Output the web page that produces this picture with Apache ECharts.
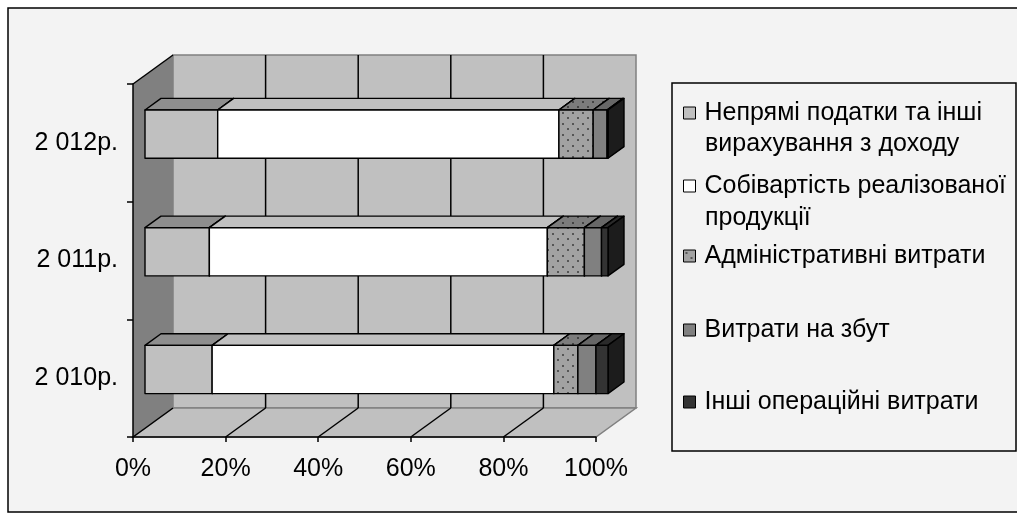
<!DOCTYPE html>
<html>
<head>
<meta charset="utf-8">
<script src="https://cdn.jsdelivr.net/npm/echarts@6/dist/echarts.min.js"></script>
<style>
  html, body { margin: 0; padding: 0; background: #ffffff; }
  #chart { width: 1017px; height: 521px; }
</style>
</head>
<body>
<div id="chart"></div>
<script>
// Categories (bottom to top on the axis)
const years = ['2 010р.', '2 011р.', '2 012р.'];

// Series names
const seriesNames = [
  'Непрямі податки та інші вирахування з доходу',
  'Собівартість реалізованої продукції',
  'Адміністративні витрати',
  'Витрати на збут',
  'Інші операційні витрати'
];

// Structure of revenue use, % (2010, 2011, 2012)
const indirectTaxes   = [14.5, 13.9, 15.7];
const costOfSales     = [73.8, 73.0, 73.7];
const adminExpenses   = [5.2, 8.0, 7.4];
const sellingExpenses = [3.9, 3.7, 3.0];
const otherExpenses   = [2.6, 1.4, 0.2];

// Value axis ticks
const xTicks = [0, 20, 40, 60, 80, 100];

const FONT = '"Liberation Sans", Arial, sans-serif';
const FONT_SIZE = 25;
const DEPTH_X = 40, DEPTH_Y = -29;        // 3D depth of the plot box
const BAR_NEAR = 0.3, BAR_FAR = 0.7;      // bar position inside the depth
const BAR_FRAC = 0.41;                    // bar thickness share of a category band

// Dotted fill used for the administrative expenses segment
function dotPattern(base, dot) {
  const c = document.createElement('canvas');
  c.width = 10; c.height = 11;
  const g = c.getContext('2d');
  g.fillStyle = base; g.fillRect(0, 0, 10, 11);
  g.fillStyle = dot;
  g.fillRect(2, 2, 2, 2);
  g.fillRect(7, 7, 2, 2);
  return c;
}

const faces = [
  { front: '#c0c0c0', top: '#8e8e8e', side: '#6a6a6a' },
  { front: '#ffffff', top: '#c0c0c0', side: '#a0a0a0' },
  { front: { image: dotPattern('#a2a2a2', '#555555'), repeat: 'repeat' },
    top:   { image: dotPattern('#7c7c7c', '#444444'), repeat: 'repeat' },
    side:  '#555555' },
  { front: '#808080', top: '#676767', side: '#4a4a4a' },
  { front: '#333333', top: '#2a2a2a', side: '#1c1c1c' }
];

const rawValues = [indirectTaxes, costOfSales, adminExpenses, sellingExpenses, otherExpenses];

// 100% stacking: [categoryIndex, start%, end%]
const stacked = rawValues.map(() => []);
years.forEach((_, ci) => {
  const total = rawValues.reduce((s, arr) => s + arr[ci], 0);
  let acc = 0;
  rawValues.forEach((arr, si) => {
    const start = acc / total * 100;
    acc += arr[ci];
    stacked[si].push([ci, start, acc / total * 100]);
  });
});

function boxRenderer(face) {
  return function (params, api) {
    const cat = api.value(0);
    const p0 = api.coord([api.value(1), cat]);
    const p1 = api.coord([api.value(2), cat]);
    const half = api.size([0, 1])[1] * BAR_FRAC / 2;
    const fx = DEPTH_X * BAR_NEAR, fy = DEPTH_Y * BAR_NEAR;
    const dx = DEPTH_X * (BAR_FAR - BAR_NEAR), dy = DEPTH_Y * (BAR_FAR - BAR_NEAR);
    const L = p0[0] + fx, R = p1[0] + fx, T = p0[1] + fy - half, B = p0[1] + fy + half;
    const stroke = { stroke: '#000', lineWidth: 1.4, lineJoin: 'round' };
    return {
      type: 'group',
      children: [
        { type: 'polygon', shape: { points: [[L, T], [R, T], [R + dx, T + dy], [L + dx, T + dy]] },
          style: Object.assign({ fill: face.top }, stroke) },
        { type: 'polygon', shape: { points: [[R, T], [R, B], [R + dx, B + dy], [R + dx, T + dy]] },
          style: Object.assign({ fill: face.side }, stroke) },
        { type: 'rect', shape: { x: L, y: T, width: R - L, height: B - T },
          style: Object.assign({ fill: face.front }, stroke) }
      ]
    };
  };
}

function wallsRenderer(params, api) {
  const cs = params.coordSys;
  const x0 = cs.x, x1 = cs.x + cs.width, yT = cs.y, yB = cs.y + cs.height;
  const dx = DEPTH_X, dy = DEPTH_Y;
  const children = [
    { type: 'polygon', shape: { points: [[x0 + dx, yT + dy], [x1 + dx, yT + dy], [x1 + dx, yB + dy], [x0 + dx, yB + dy]] },
      style: { fill: '#c0c0c0', stroke: '#808080', lineWidth: 1.5 } },
    { type: 'polygon', shape: { points: [[x0, yB], [x1, yB], [x1 + dx, yB + dy], [x0 + dx, yB + dy]] },
      style: { fill: '#c0c0c0', stroke: '#808080', lineWidth: 1.5 } },
    { type: 'polygon', shape: { points: [[x0, yT], [x0 + dx, yT + dy], [x0 + dx, yB + dy], [x0, yB]] },
      style: { fill: '#808080', stroke: null } },
    { type: 'line', shape: { x1: x0, y1: yT, x2: x0 + dx, y2: yT + dy }, style: { stroke: '#000', lineWidth: 1.5 } },
    { type: 'line', shape: { x1: x0, y1: yB, x2: x0 + dx, y2: yB + dy }, style: { stroke: '#000', lineWidth: 1.5 } }
  ];
  xTicks.forEach(v => {
    if (v === xTicks[0] || v === xTicks[xTicks.length - 1]) return;
    const x = api.coord([v, 0])[0];
    children.push({ type: 'line', shape: { x1: x + dx, y1: yT + dy, x2: x + dx, y2: yB + dy },
      style: { stroke: '#000', lineWidth: 1.5 } });
    children.push({ type: 'line', shape: { x1: x, y1: yB, x2: x + dx, y2: yB + dy },
      style: { stroke: '#000', lineWidth: 1.5 } });
  });
  return { type: 'group', children };
}

// Legend rows: first text line on the legend, continuation lines as text
const legendFirstLine = ['Непрямі податки та інші', 'Собівартість реалізованої', 'Адміністративні витрати', 'Витрати на збут', 'Інші операційні витрати'];
const legendCenters = [113, 186, 256, 330, 402];
const legendIcons = ['#c0c0c0', '#ffffff', faces[2].front, '#808080', '#333333'];

const legends = seriesNames.map((name, i) => ({
  data: [name],
  orient: 'vertical',
  left: 683,
  top: legendCenters[i] - 14,
  padding: 0,
  icon: 'rect',
  itemWidth: 12,
  itemHeight: 12,
  selectedMode: false,
  itemStyle: { borderColor: '#000', borderWidth: 1 },
  formatter: () => legendFirstLine[i],
  textStyle: { fontFamily: FONT, fontSize: FONT_SIZE, color: '#000', lineHeight: 28, padding: [0, 0, 0, 4] }
}));

const series = [{
  type: 'custom',
  name: 'walls',
  silent: true,
  clip: false,
  z: 1,
  data: [[0, 0]],
  renderItem: wallsRenderer
}].concat(seriesNames.map((name, i) => ({
  type: 'custom',
  name: name,
  clip: false,
  z: 3,
  itemStyle: { color: legendIcons[i] },
  data: stacked[i],
  encode: { x: [1, 2], y: 0 },
  renderItem: boxRenderer(faces[i])
})));

const chart = echarts.init(document.getElementById('chart'), null, { renderer: 'canvas' });
chart.setOption({
  animation: false,
  backgroundColor: '#ffffff',
  textStyle: { fontFamily: FONT },
  graphic: [
    { type: 'rect', z: -10, shape: { x: 8, y: 8, width: 1020, height: 504 },
      style: { fill: '#f3f3f3', stroke: '#000', lineWidth: 1.5 } },
    { type: 'rect', z: -5, shape: { x: 672, y: 83, width: 344, height: 368 },
      style: { fill: 'none', stroke: '#000', lineWidth: 1.5 } },
    { type: 'text', left: 705, top: 144.5 - 14,
      style: { text: 'вирахування з доходу', fontFamily: FONT, fontSize: FONT_SIZE, fill: '#000', lineHeight: 28 } },
    { type: 'text', left: 705, top: 218 - 14,
      style: { text: 'продукції', fontFamily: FONT, fontSize: FONT_SIZE, fill: '#000', lineHeight: 28 } }
  ],
  legend: legends,
  grid: { left: 133, top: 84, width: 463, height: 353, containLabel: false },
  xAxis: {
    type: 'value', min: 0, max: 100, interval: 20, z: 5,
    axisLine: { show: true, lineStyle: { color: '#000', width: 1.5 } },
    axisTick: { show: true, length: 5, lineStyle: { color: '#000', width: 1.5 } },
    axisLabel: { formatter: '{value}%', fontSize: FONT_SIZE, color: '#000', margin: 20, fontFamily: FONT },
    splitLine: { show: false }
  },
  yAxis: {
    type: 'category', data: years, z: 5,
    axisLine: { show: true, lineStyle: { color: '#000', width: 1.5 } },
    axisTick: { show: true, length: 6, lineStyle: { color: '#000', width: 1.5 } },
    axisLabel: { fontSize: FONT_SIZE, color: '#000', margin: 15, fontFamily: FONT },
    splitLine: { show: false }
  },
  series: series
});
</script>
</body>
</html>
